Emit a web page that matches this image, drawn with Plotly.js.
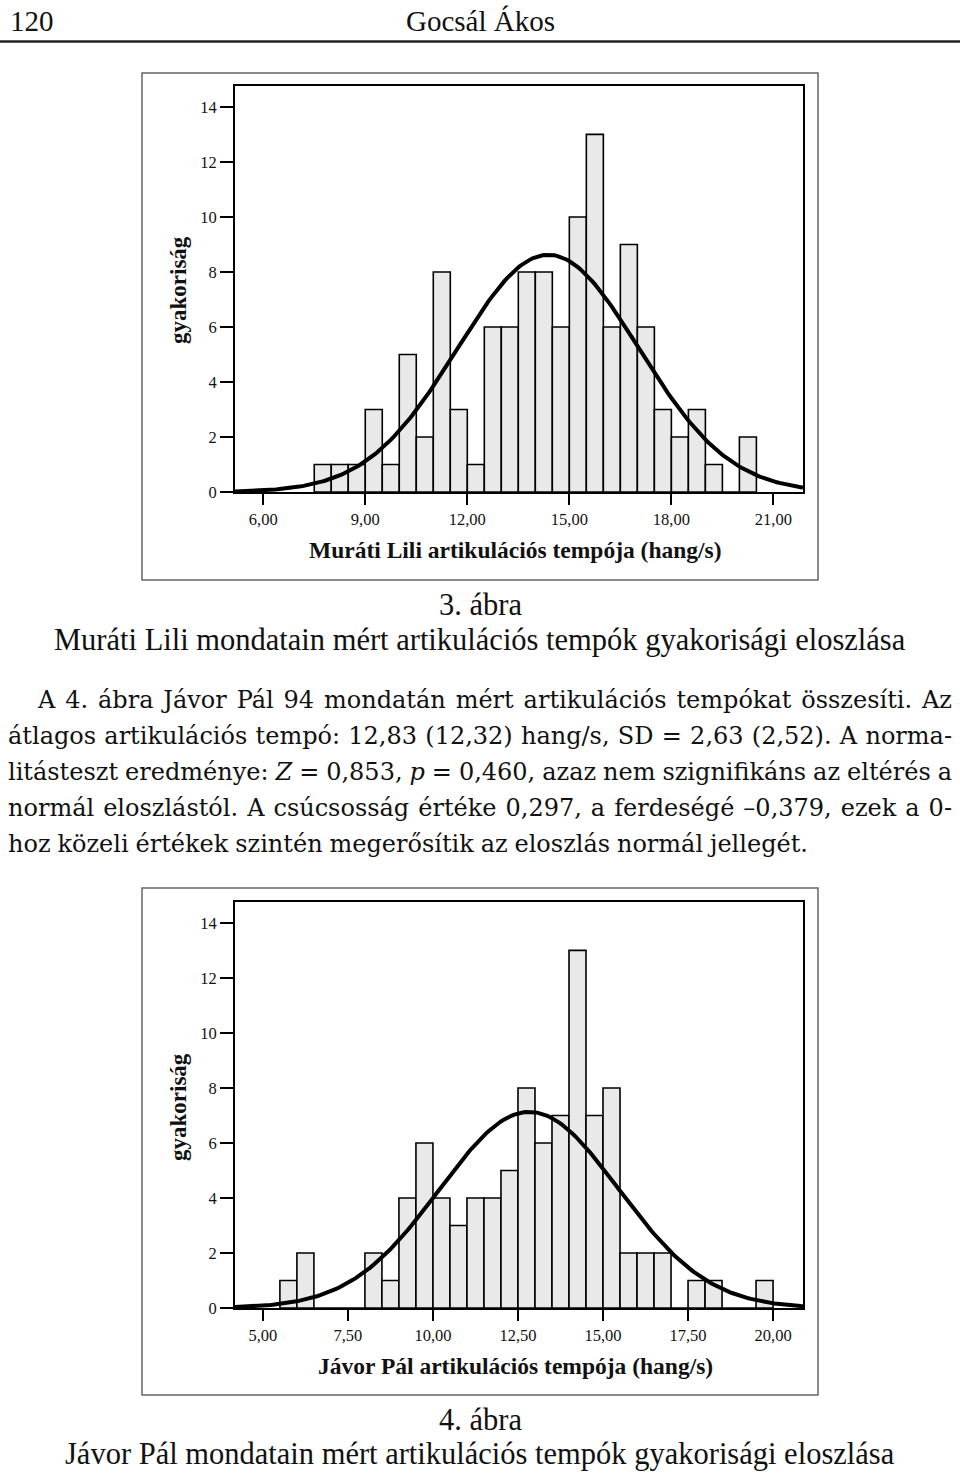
<!DOCTYPE html>
<html><head><meta charset="utf-8">
<script src="https://cdn.plot.ly/plotly-3.0.1.min.js"></script>
<style>
html,body{margin:0;padding:0;background:#fff;}
#wrap{position:relative;width:960px;height:1475px;overflow:hidden;background:#fff;}
#chart{position:absolute;left:0;top:0;width:960px;height:1475px;}
#para{position:absolute;left:8px;top:682px;width:944px;font-family:"DejaVu Serif",serif;font-size:24px;line-height:36px;color:#111;}
#para .ln{white-space:nowrap;height:36px;transform-origin:0 50%;}
</style></head><body>
<div id="wrap"><div id="chart"></div><div id="para"></div></div>
<script>
// ---- Data: Muráti Lili (3. ábra) ----
const liliBinCenters = [7.75, 8.25, 8.75, 9.25, 9.75, 10.25, 10.75, 11.25, 11.75, 12.25, 12.75, 13.25, 13.75,
  14.25, 14.75, 15.25, 15.75, 16.25, 16.75, 17.25, 17.75, 18.25, 18.75, 19.25, 19.75, 20.25];
const liliCounts = [1, 1, 1, 3, 1, 5, 2, 8, 3, 1, 6, 6, 8, 8, 6, 10, 13, 6, 9, 6, 3, 2, 3, 1, 0, 2];
const liliMean = 14.38, liliSD = 2.66, liliN = 115;
const liliTickVals = [6, 9, 12, 15, 18, 21];
const liliTickText = ["6,00", "9,00", "12,00", "15,00", "18,00", "21,00"];

// ---- Data: Jávor Pál (4. ábra) ----
const javorBinCenters = [5.75, 6.25, 6.75, 7.25, 7.75, 8.25, 8.75, 9.25, 9.75, 10.25, 10.75, 11.25, 11.75,
  12.25, 12.75, 13.25, 13.75, 14.25, 14.75, 15.25, 15.75, 16.25, 16.75, 17.25, 17.75, 18.25, 18.75, 19.25, 19.75];
const javorCounts = [1, 2, 0, 0, 0, 2, 1, 4, 6, 4, 3, 4, 4, 5, 8, 6, 7, 13, 7, 8, 2, 2, 2, 0, 1, 1, 0, 0, 1];
const javorMean = 12.83, javorSD = 2.63, javorN = 94;
const javorTickVals = [5, 7.5, 10, 12.5, 15, 17.5, 20];
const javorTickText = ["5,00", "7,50", "10,00", "12,50", "15,00", "17,50", "20,00"];

const binWidth = 0.5;
const yTickVals = [0, 2, 4, 6, 8, 10, 12, 14];
const yTickText = ["0", "2", "4", "6", "8", "10", "12", "14"];

const liliXRange = [5.17, 21.87];
const javorXRange = [4.18, 20.88];
const yRange = [0, 14.76];

// fitted normal curve (SPSS-style overlay) from mean, SD, N and bin width
function normalCurve(mean, sd, n, bw, range) {
  const xs = [], ys = [];
  const steps = 240;
  for (let i = 0; i <= steps; i++) {
    const x = range[0] + (range[1] - range[0]) * i / steps;
    xs.push(x);
    ys.push(n * bw / (sd * Math.sqrt(2 * Math.PI)) * Math.exp(-0.5 * Math.pow((x - mean) / sd, 2)));
  }
  return {xs, ys};
}

const W = 960, H = 1475;
const px = v => v / W;
const py = v => 1 - v / H;

const barStyle = {color: '#e9e9e9', line: {color: '#000', width: 1.6}};
const c1 = normalCurve(liliMean, liliSD, liliN, binWidth, liliXRange);
const c2 = normalCurve(javorMean, javorSD, javorN, binWidth, javorXRange);

const traces = [
  {type: 'bar', x: liliBinCenters, y: liliCounts, width: binWidth, marker: barStyle, xaxis: 'x', yaxis: 'y', hoverinfo: 'skip'},
  {type: 'scatter', mode: 'lines', x: c1.xs, y: c1.ys, line: {color: '#000', width: 4}, xaxis: 'x', yaxis: 'y', hoverinfo: 'skip'},
  {type: 'bar', x: javorBinCenters, y: javorCounts, width: binWidth, marker: barStyle, xaxis: 'x2', yaxis: 'y2', hoverinfo: 'skip'},
  {type: 'scatter', mode: 'lines', x: c2.xs, y: c2.ys, line: {color: '#000', width: 4}, xaxis: 'x2', yaxis: 'y2', hoverinfo: 'skip'}
];

const tickFont = {family: 'Liberation Serif, Times New Roman, serif', size: 16.5, color: '#111'};
function xAxis(range, vals, text, anchor) {
  return {domain: [px(235), px(803)], range: range, anchor: anchor, showline: true, mirror: true,
    linecolor: '#000', linewidth: 2, ticks: 'outside', ticklen: 11, tickwidth: 2, tickcolor: '#000',
    tickvals: vals, ticktext: text, tickfont: tickFont, showgrid: false, zeroline: false, fixedrange: true};
}
function yAxis(dom, anchor) {
  return {domain: dom, range: yRange, anchor: anchor, showline: true, mirror: true,
    linecolor: '#000', linewidth: 2, ticks: 'outside', ticklen: 13, tickwidth: 2, tickcolor: '#000',
    tickvals: yTickVals, ticktext: yTickText, tickfont: tickFont, showgrid: false, zeroline: false, fixedrange: true};
}

const serif = 'Liberation Serif, Times New Roman, serif';
function ann(text, x, y, size, extra) {
  return Object.assign({text: text, xref: 'paper', yref: 'paper', x: px(x), y: py(y), xanchor: 'center', yanchor: 'middle',
    showarrow: false, font: {family: serif, size: size, color: '#111'}}, extra || {});
}

const layout = {
  width: W, height: H, margin: {l: 0, r: 0, t: 0, b: 0},
  paper_bgcolor: 'rgba(0,0,0,0)', plot_bgcolor: '#fff', showlegend: false,
  xaxis: xAxis(liliXRange, liliTickVals, liliTickText, 'y'),
  yaxis: yAxis([py(492), py(86)], 'x'),
  xaxis2: xAxis(javorXRange, javorTickVals, javorTickText, 'y2'),
  yaxis2: yAxis([py(1308), py(902)], 'x2'),
  shapes: [
    {type: 'line', xref: 'paper', yref: 'paper', x0: 0, x1: 1, y0: py(41.5), y1: py(41.5), line: {color: '#222', width: 2.5}},
    {type: 'rect', xref: 'paper', yref: 'paper', x0: px(142), x1: px(818), y0: py(580), y1: py(73), line: {color: '#666', width: 1.5}},
    {type: 'rect', xref: 'paper', yref: 'paper', x0: px(142), x1: px(818), y0: py(1395), y1: py(888), line: {color: '#666', width: 1.5}}
  ],
  annotations: [
    ann('120', 8, 21, 29, {xanchor: 'left'}),
    ann('Gocsál Ákos', 480, 21, 29),
    ann('<b>Muráti Lili artikulációs tempója (hang/s)</b>', 515, 550, 23.5),
    ann('<b>gyakoriság</b>', 178, 290, 23, {textangle: -90}),
    ann('3. ábra', 480, 605, 30.5),
    ann('Muráti Lili mondatain mért artikulációs tempók gyakorisági eloszlása', 480, 640, 30.5),
    ann('<b>Jávor Pál artikulációs tempója (hang/s)</b>', 515, 1366, 23.5),
    ann('<b>gyakoriság</b>', 178, 1107, 23, {textangle: -90}),
    ann('4. ábra', 480, 1420, 30.5),
    ann('Jávor Pál mondatain mért artikulációs tempók gyakorisági eloszlása', 480, 1454, 30.5)
  ]
};

Plotly.newPlot('chart', traces, layout, {staticPlot: true, displayModeBar: false});

// ---- body paragraph (justified lines) ----
const paraLines = [
  'A 4. ábra Jávor Pál 94 mondatán mért artikulációs tempókat összesíti. Az',
  'átlagos artikulációs tempó: 12,83 (12,32) hang/s, SD = 2,63 (2,52). A norma-',
  'litásteszt eredménye: <i>Z</i> = 0,853, <i>p</i> = 0,460, azaz nem szignifikáns az eltérés a',
  'normál eloszlástól. A csúcsosság értéke 0,297, a ferdeségé –0,379, ezek a 0-',
  'hoz közeli értékek szintén megerősítik az eloszlás normál jellegét.'
];
const paraTargets = [914, 944, 944, 944, 800];
const paraIndent = [30, 0, 0, 0, 0];
const para = document.getElementById('para');
paraLines.forEach((t, i) => {
  const d = document.createElement('div');
  d.className = 'ln';
  const s = document.createElement('span');
  s.innerHTML = t;
  d.appendChild(s);
  d.style.paddingLeft = paraIndent[i] + 'px';
  para.appendChild(d);
  const w = s.getBoundingClientRect().width;
  const spaces = (s.textContent.match(/ /g) || []).length;
  let ws = (paraTargets[i] - w) / spaces;
  if (ws < -2.5) {
    const w2 = w - 2.5 * spaces;
    s.style.wordSpacing = '-2.5px';
    s.style.display = 'inline-block';
    s.style.transformOrigin = '0 50%';
    s.style.transform = 'scaleX(' + (paraTargets[i] / w2) + ')';
  } else {
    s.style.wordSpacing = ws + 'px';
  }
});
</script>
</body></html>
